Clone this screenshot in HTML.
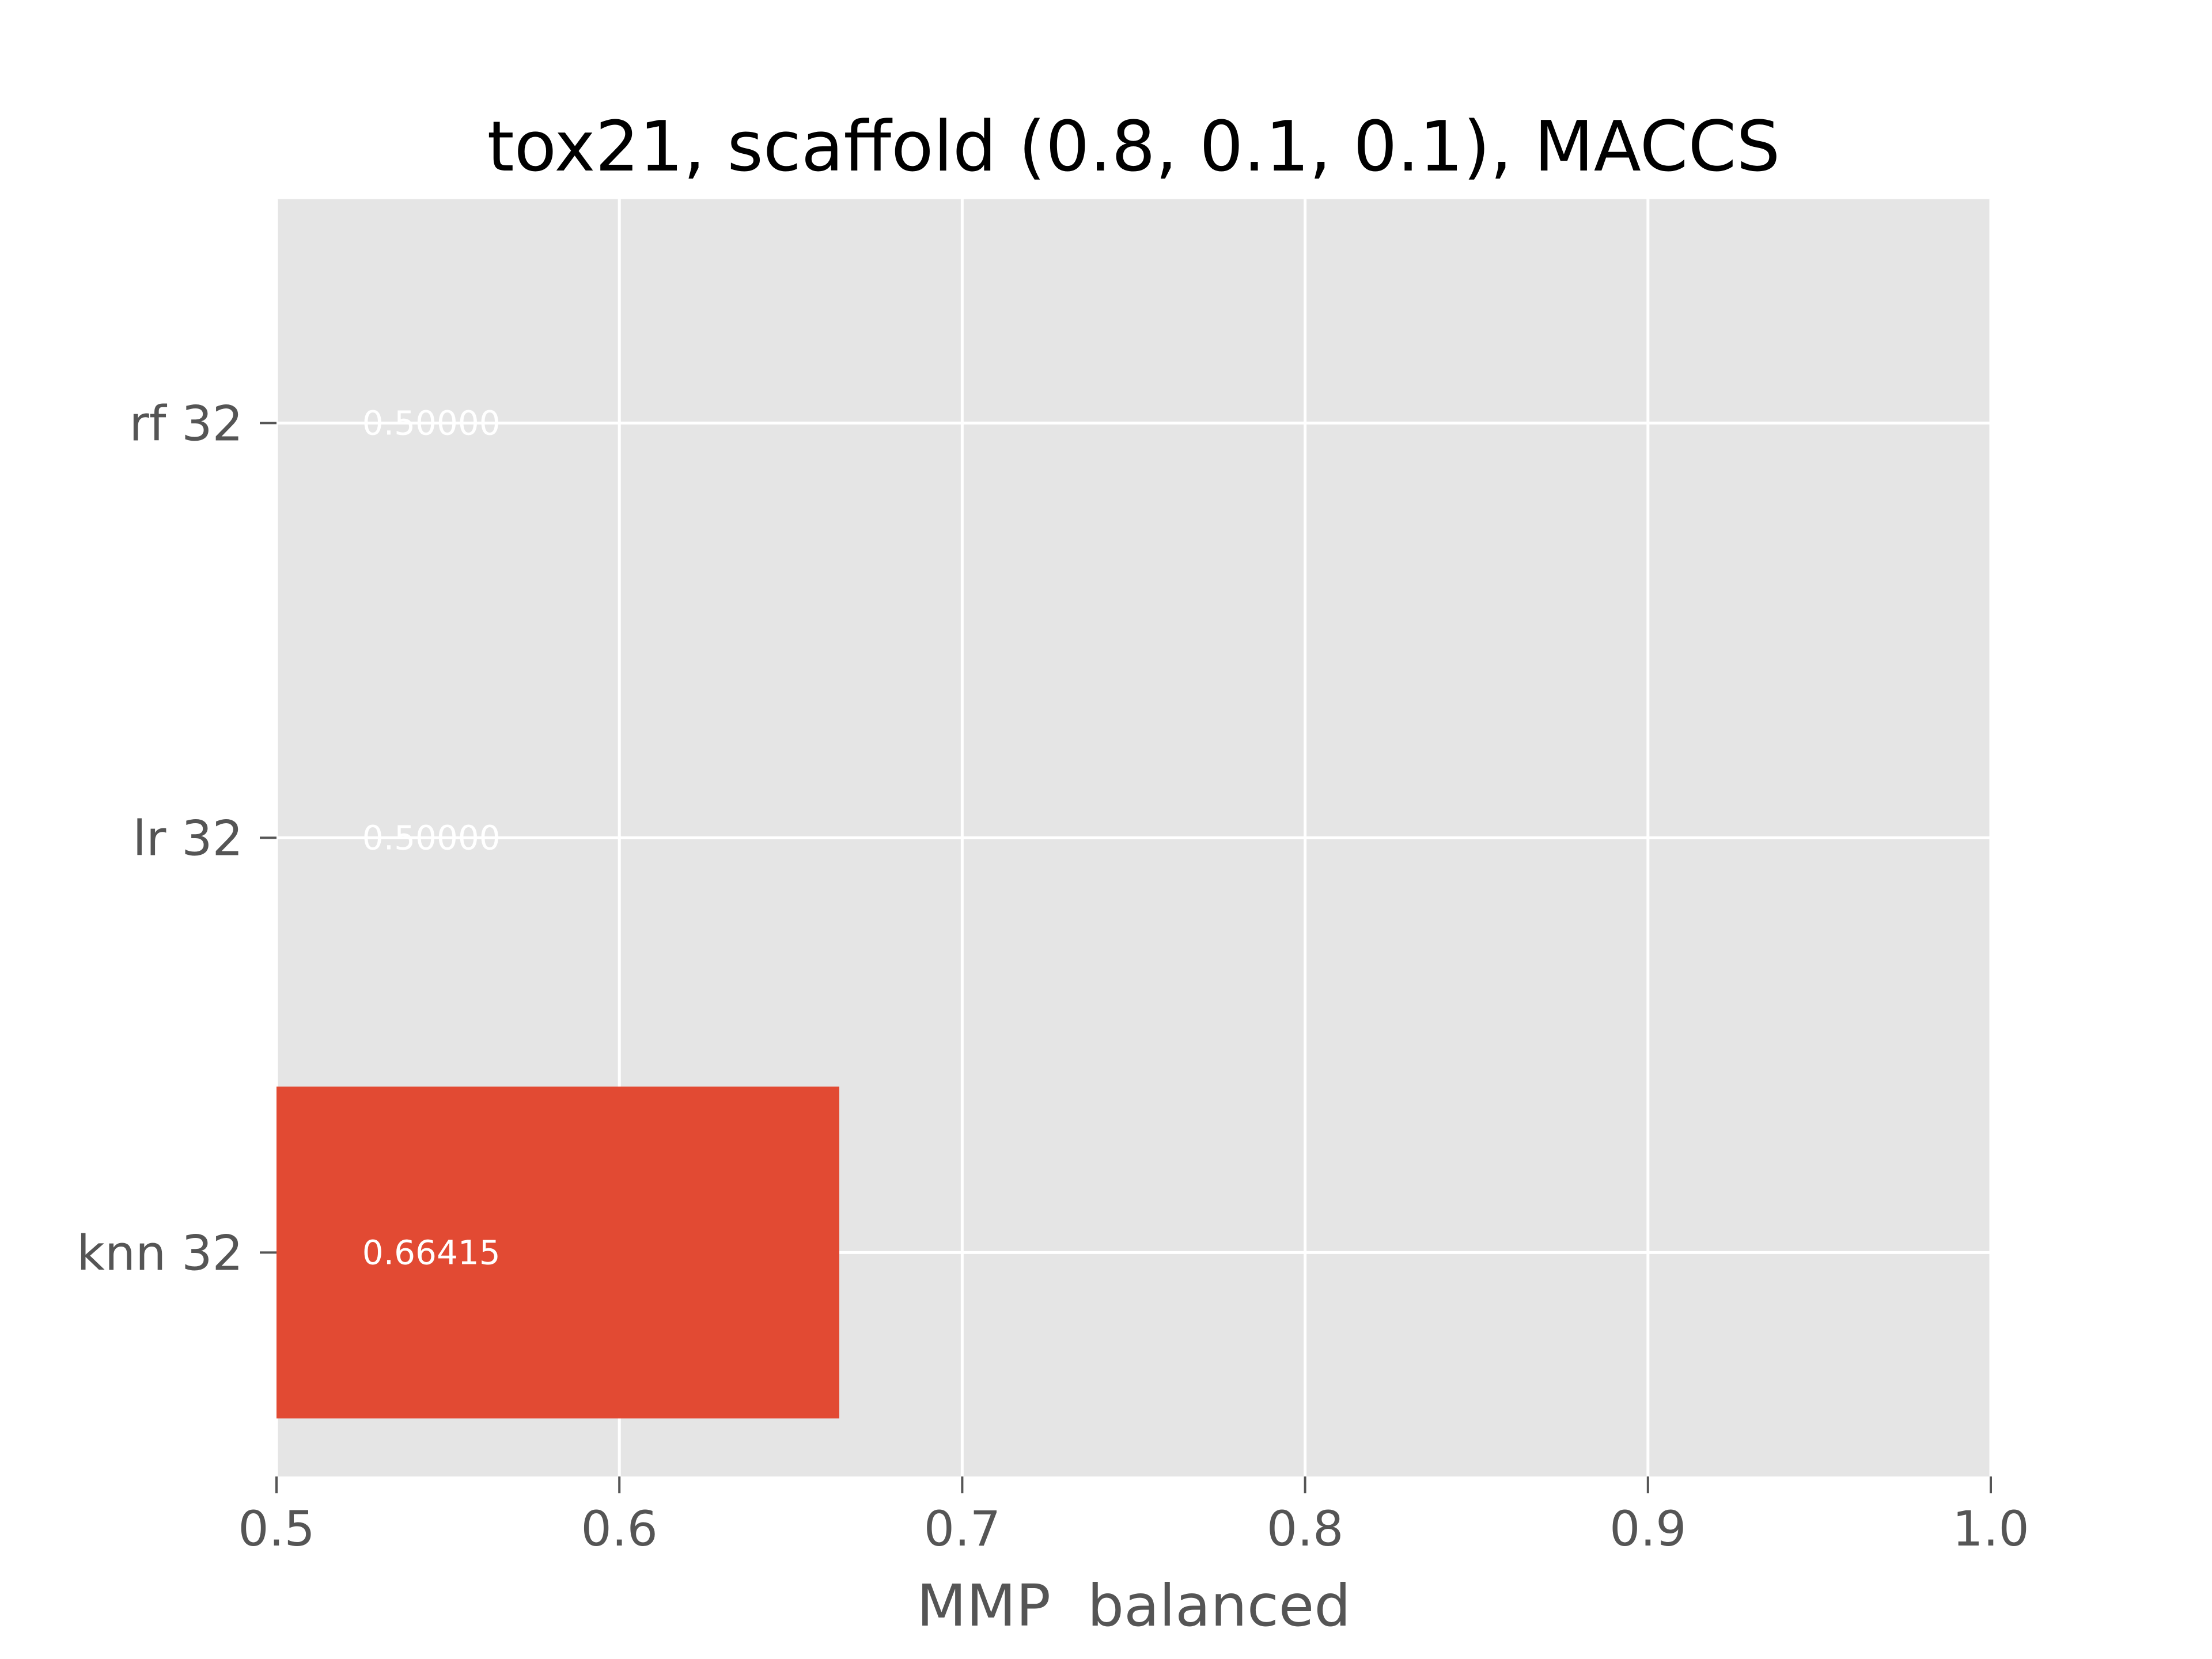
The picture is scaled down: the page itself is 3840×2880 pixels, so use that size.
<!DOCTYPE html>
<html><head><meta charset="utf-8"><style>
html,body{margin:0;padding:0;background:#fff;}
svg{display:block;font-family:"DejaVu Sans","Liberation Sans",sans-serif;}
</style></head><body>
<svg id="chart" width="3840" height="2880" viewBox="0 0 3840 2880">
<rect x="0" y="0" width="3840" height="2880" fill="#ffffff"/>
<rect x="480" y="345.6" width="2976" height="2217.6" fill="#e5e5e5"/>
<g id="grid"></g>
<g id="bars"></g>
<g id="labels"></g>
<g id="xticks"></g>
<g id="yticks"></g>
<text x="1968" y="296" text-anchor="middle" font-size="120" fill="#000">tox21, scaffold (0.8, 0.1, 0.1), MACCS</text>
<text x="1968" y="2822" text-anchor="middle" font-size="100" fill="#555555" xml:space="preserve" style="white-space:pre">MMP  balanced</text>
</svg>
<script>
const categories = ["knn 32", "lr 32", "rf 32"];
const values = [0.66415, 0.5, 0.5];
const valueLabels = ["0.66415", "0.50000", "0.50000"];
const xTicks = [0.5, 0.6, 0.7, 0.8, 0.9, 1.0];
const xTickLabels = ["0.5", "0.6", "0.7", "0.8", "0.9", "1.0"];

const L=480,R=3456,T=345.6,B=2563.2;
const xmin=0.5,xmax=1.0,ymin=-0.54,ymax=2.54;
const NS="http://www.w3.org/2000/svg";
function sx(v){return L+(v-xmin)/(xmax-xmin)*(R-L);}
function sy(v){return B-(v-ymin)/(ymax-ymin)*(B-T);}
function mk(tag,attrs,parent){const e=document.createElementNS(NS,tag);for(const k in attrs)e.setAttribute(k,attrs[k]);parent.appendChild(e);return e;}
const grid=document.getElementById('grid'),bars=document.getElementById('bars'),labels=document.getElementById('labels'),xt=document.getElementById('xticks'),yt=document.getElementById('yticks');
xTicks.forEach((v,i)=>{
  const g=mk('line',{x1:sx(v),x2:sx(v),y1:T,y2:B,stroke:'#fff','stroke-width':5},grid);
  
  
  const t=mk('line',{x1:sx(v),x2:sx(v),y1:B,y2:B+29,stroke:'#555','stroke-width':4},xt);
  
  
  const tx=mk('text',{x:sx(v),y:B+120,'text-anchor':'middle','font-size':84,fill:'#555555'},xt);
  tx.textContent=xTickLabels[i];
  
  
});
categories.forEach((c,i)=>{
  const y=sy(i);
  const g=mk('line',{x1:L,x2:R,y1:y,y2:y,stroke:'#fff','stroke-width':5},grid);
  
  
  const x0=sx(xmin),x1=sx(Math.max(values[i],xmin));
  const b=mk('rect',{x:x0,y:sy(i+0.4),width:Math.max(0,x1-x0),height:sy(i-0.4)-sy(i+0.4),fill:'#e24a33'},bars);
  
  
  const t=mk('line',{x1:L-29,x2:L,y1:y,y2:y,stroke:'#555','stroke-width':4},yt);
  
  
  const tx=mk('text',{x:L-58,y:y+30,'text-anchor':'end','font-size':84,fill:'#555555'},yt);
  tx.textContent=c;
  
  
  const lb=mk('text',{x:sx(0.525),y:y+20,'font-size':58,fill:'#ffffff'},labels);
  lb.textContent=valueLabels[i];
  
  
});
</script>
</body></html>
